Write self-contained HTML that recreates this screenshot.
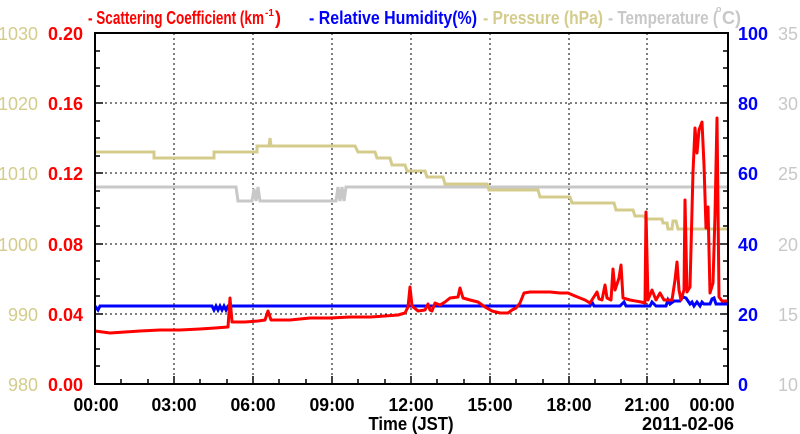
<!DOCTYPE html>
<html><head><style>
body{margin:0;background:#fff}
svg{display:block;font-family:"Liberation Sans",sans-serif;font-weight:bold}
</style></head><body>
<svg width="800" height="434" viewBox="0 0 800 434">
<g stroke="#000" stroke-width="1" stroke-dasharray="2,3">
<line x1="174" y1="33" x2="174" y2="384"/><line x1="253" y1="33" x2="253" y2="384"/>
<line x1="332" y1="33" x2="332" y2="384"/><line x1="411" y1="33" x2="411" y2="384"/>
<line x1="490" y1="33" x2="490" y2="384"/><line x1="569" y1="33" x2="569" y2="384"/>
<line x1="647" y1="33" x2="647" y2="384"/>
<line x1="95" y1="314" x2="728" y2="314"/><line x1="95" y1="244" x2="728" y2="244"/>
<line x1="95" y1="173" x2="728" y2="173"/><line x1="95" y1="103" x2="728" y2="103"/>
</g>
<g stroke="#000" stroke-width="1.5">
<path d="M95 384h8M95 314h8M95 244h8M95 173h8M95 103h8M728 384h-8M728 314h-8M728 244h-8M728 173h-8M728 103h-8"/>
<path d="M728 366h-5M728 349h-5M728 331h-5M728 296h-5M728 279h-5M728 261h-5M728 226h-5M728 208h-5M728 191h-5M728 156h-5M728 138h-5M728 121h-5M728 86h-5M728 68h-5M728 51h-5"/>
<path d="M95 366h5M95 349h5M95 331h5M95 296h5M95 279h5M95 261h5M95 226h5M95 208h5M95 191h5M95 156h5M95 138h5M95 121h5M95 86h5M95 68h5M95 51h5"/>
<path d="M121 384v-5M148 384v-5M200 384v-5M227 384v-5M279 384v-5M306 384v-5M358 384v-5M385 384v-5M437 384v-5M464 384v-5M516 384v-5M543 384v-5M595 384v-5M621 384v-5M674 384v-5M700 384v-5M174 384v-8M253 384v-8M332 384v-8M411 384v-8M490 384v-8M569 384v-8M647 384v-8"/>
</g>
<polyline fill="none" stroke="#c8c8c8" stroke-width="3" points="95,187 236,187 238,201 252,201 254,189 256,201 258,187 260,201 336,201 338,187 340,201 342,187 344,201 346,187 728,187"/>
<polyline fill="none" stroke="#d4cc8c" stroke-width="3" points="95,152 154,152 154,158 214,158 214,152 257,152 257,146 269,146 270,138 271,146 355,146 358,152 375,152 377,158 390,158 392,165 405,165 407,171 425,171 427,177 443,177 445,184 487,184 489,190 538,190 540,197 570,197 572,203 614,203 616,210 633,210 635,216 644,216 646,219 662,219 663,223 667,223 668,229 672,229 673,221 676,221 678,229 728,229"/>
<polyline fill="none" stroke="#0000ff" stroke-width="3" points="95,306 98,310 100,306 212,306 214,310 216,306 218,310 220,306 222,310 224,306 226,310 228,306 590,306 592,302 594,306 620,306 624,302 626,306 650,306 652,302 656,306 666,306 668,300 670,304 674,301 680,301 683,297 686,298 690,304 692,302 694,306 697,302 700,306 702,302 704,304 710,304 712,299 714,298 716,304 728,304"/>
<polyline fill="none" stroke="#ff0000" stroke-width="3" stroke-linejoin="round" points="95,331 110,333 125,332 140,331 160,330 180,330 200,329 215,328 228,327 230,298 232,322 245,322 258,321 265,320 268,311 271,320 290,320 310,318 330,318 350,317 370,317 385,316 398,315 405,313 408,307 410,287 412,306 418,311 425,310 428,304 430,310 432,311 435,303 440,305 445,302 450,298 458,297 460,288 463,298 470,300 478,302 485,307 492,311 500,313 508,313 512,310 516,308 520,303 524,293 530,292 540,292 550,292 560,293 568,293 575,296 585,300 590,303 597,292 599,299 602,300 605,285 607,298 611,300 613,269 615,290 619,278 621,265 623,298 630,300 641,302 645,303 646,212 648,300 652,290 656,300 660,293 664,300 672,300 675,280 677,262 679,290 681,300 684,290 685,200 687,292 690,287 693,172 695,128 697,153 699,130 702,122 704,165 706,228 708,207 710,293 713,283 715,215 717,118 719,297 722,301 728,301"/>
<rect x="95" y="33" width="633" height="351" fill="none" stroke="#000" stroke-width="2"/>
<g font-size="18" text-anchor="end" fill="#ff0000">
<text x="83" y="40">0.20</text><text x="83" y="110">0.16</text><text x="83" y="180">0.12</text><text x="83" y="251">0.08</text><text x="83" y="321">0.04</text><text x="83" y="391">0.00</text>
</g>
<g font-size="18" text-anchor="end" fill="#d4cc8c" font-weight="normal">
<text x="38" y="40">1030</text><text x="38" y="110">1020</text><text x="38" y="180">1010</text><text x="38" y="251">1000</text><text x="38" y="321">990</text><text x="38" y="391">980</text>
</g>
<g font-size="18" fill="#0000ff"><text x="738" y="40">100</text><text x="738" y="110">80</text><text x="738" y="180">60</text><text x="738" y="251">40</text><text x="738" y="321">20</text><text x="738" y="391">0</text></g>
<g font-size="18" fill="#c8c8c8" font-weight="normal"><text x="778" y="40">35</text><text x="778" y="110">30</text><text x="778" y="180">25</text><text x="778" y="251">20</text><text x="778" y="321">15</text><text x="778" y="391">10</text></g>
<g font-size="18" text-anchor="middle" fill="#000">
<text x="96" y="411" textLength="45" lengthAdjust="spacingAndGlyphs">00:00</text><text x="174" y="411" textLength="45" lengthAdjust="spacingAndGlyphs">03:00</text><text x="253" y="411" textLength="45" lengthAdjust="spacingAndGlyphs">06:00</text><text x="332" y="411" textLength="45" lengthAdjust="spacingAndGlyphs">09:00</text><text x="411" y="411" textLength="45" lengthAdjust="spacingAndGlyphs">12:00</text><text x="490" y="411" textLength="45" lengthAdjust="spacingAndGlyphs">15:00</text><text x="569" y="411" textLength="45" lengthAdjust="spacingAndGlyphs">18:00</text><text x="647" y="411" textLength="45" lengthAdjust="spacingAndGlyphs">21:00</text><text x="712" y="411" textLength="45" lengthAdjust="spacingAndGlyphs">00:00</text>
<text x="411" y="430" textLength="85" lengthAdjust="spacingAndGlyphs">Time (JST)</text><text x="688" y="430" textLength="92" lengthAdjust="spacingAndGlyphs">2011-02-06</text>
</g>
<g font-size="18" font-weight="bold">
<text x="88" y="24" fill="#ff0000" textLength="176" lengthAdjust="spacingAndGlyphs">- Scattering Coefficient (km</text>
<text x="265" y="16" fill="#ff0000" font-size="10">-1</text>
<text x="275" y="24" fill="#ff0000">)</text>
<text x="309" y="24" fill="#0000ff" textLength="168" lengthAdjust="spacingAndGlyphs">- Relative Humidity(%)</text>
<text x="483" y="24" fill="#d4cc8c" textLength="120" lengthAdjust="spacingAndGlyphs">- Pressure (hPa)</text>
<text x="608" y="24" fill="#c8c8c8" textLength="110" lengthAdjust="spacingAndGlyphs">- Temperature (</text>
<text x="716" y="12" fill="#c8c8c8" font-size="9">o</text>
<text x="722" y="24" fill="#c8c8c8">C)</text>
</g>
</svg>
</body></html>
